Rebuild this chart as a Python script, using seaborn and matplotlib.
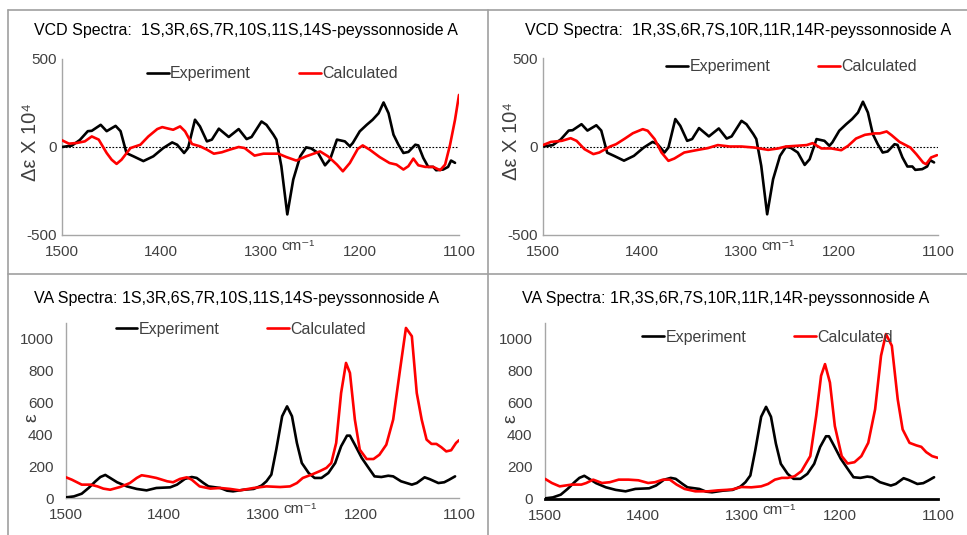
import numpy as np
import pandas as pd
import matplotlib
matplotlib.use("Agg")
import matplotlib.pyplot as plt
from matplotlib.lines import Line2D
import seaborn as sns

# ---------------- data ----------------
vcd_exp_x = [1500, 1490, 1482, 1474, 1470, 1461, 1455, 1446, 1441, 1435, 1428, 1418, 1408, 1398,
             1389, 1384, 1377, 1373, 1366, 1361, 1354, 1349, 1342, 1332, 1322, 1314, 1309, 1299,
             1294, 1287, 1284, 1279, 1273, 1267, 1260, 1254, 1249, 1242, 1235, 1230, 1223, 1215,
             1210, 1207, 1200, 1193, 1187, 1181, 1176, 1171, 1166, 1161, 1156, 1151, 1144, 1141,
             1136, 1131, 1126, 1123, 1116, 1111, 1108, 1104]
vcd_exp_y = [0, 8, 40, 90, 92, 126, 90, 120, 90, -35, -53, -80, -53, -6,
             26, 13, -34, -6, 155, 117, 32, 42, 104, 57, 102, 45, 57, 145,
             126, 70, 42, -109, -383, -185, -53, -2, -8, -34, -104, -72, 42, 32,
             4, 23, 89, 126, 155, 192, 253, 192, 70, 13, -34, -28, 13, 9,
             -62, -113, -113, -132, -128, -113, -77, -90]

vcd_calc1_x = [1500, 1493, 1485, 1477, 1470, 1463, 1455, 1450, 1445, 1440, 1431, 1421, 1413, 1404,
               1399, 1394, 1388, 1381, 1376, 1369, 1361, 1354, 1347, 1339, 1331, 1322, 1316, 1306,
               1297, 1282, 1274, 1264, 1254, 1240, 1232, 1223, 1217, 1210, 1202, 1197, 1190, 1180,
               1170, 1163, 1156, 1151, 1146, 1141, 1134, 1126, 1119, 1114, 1109, 1104, 1100]
vcd_calc1_y = [38, 19, 23, 32, 60, 42, -34, -72, -96, -72, -6, 13, 60, 102,
               113, 106, 98, 117, 89, 17, 4, -15, -38, -30, -15, 0, -6, -49,
               -38, -38, -57, -77, -53, -25, -53, -100, -138, -91, -11, 9, -15, -57,
               -91, -100, -128, -109, -66, -104, -113, -113, -132, -100, 13, 155, 296]

vcd_calc2_x = [1500, 1492, 1481, 1472, 1466, 1458, 1449, 1443, 1432, 1426, 1417, 1409, 1399, 1394,
               1387, 1380, 1373, 1367, 1357, 1343, 1333, 1323, 1311, 1299, 1286, 1272, 1262, 1254,
               1243, 1233, 1227, 1218, 1208, 1198, 1191, 1183, 1174, 1164, 1159, 1152, 1147, 1139,
               1128, 1122, 1115, 1112, 1107, 1101]
vcd_calc2_y = [8, 26, 32, 47, 32, -15, -43, -34, 0, 13, 45, 75, 98, 89,
               42, -34, -81, -68, -34, -19, -9, 8, 0, 0, -6, -19, -11, 0,
               4, 8, 19, -11, -11, -21, 4, 45, 66, 74, 74, 85, 64, 26,
               -6, -43, -91, -100, -62, -49]

va_exp_x = [1500, 1492, 1484, 1477, 1470, 1465, 1460, 1455, 1448, 1438, 1428, 1418, 1408, 1394,
            1387, 1379, 1372, 1367, 1360, 1355, 1343, 1336, 1330, 1319, 1309, 1301, 1296, 1291,
            1286, 1280, 1275, 1270, 1265, 1260, 1253, 1247, 1240, 1233, 1226, 1220, 1214, 1211,
            1206, 1199, 1192, 1186, 1179, 1172, 1167, 1159, 1148, 1143, 1135, 1130, 1121, 1115,
            1110, 1104]
va_exp_y = [4, 10, 27, 63, 105, 132, 145, 126, 99, 73, 57, 48, 63, 67,
            84, 120, 132, 126, 94, 73, 63, 46, 42, 52, 57, 78, 105, 147,
            304, 514, 576, 514, 346, 220, 157, 126, 126, 157, 220, 325, 392, 392,
            335, 252, 189, 136, 132, 140, 136, 105, 84, 94, 130, 119, 94, 99,
            115, 136]

va_calc1_x = [1500, 1494, 1484, 1475, 1468, 1462, 1455, 1445, 1435, 1428, 1423, 1416, 1408, 1397,
              1391, 1384, 1377, 1372, 1364, 1353, 1343, 1333, 1323, 1309, 1296, 1282, 1272, 1265,
              1259, 1250, 1242, 1235, 1230, 1225, 1220, 1215, 1211, 1206, 1201, 1194, 1187, 1181,
              1174, 1167, 1160, 1154, 1148, 1143, 1138, 1133, 1128, 1123, 1118, 1113, 1108, 1103, 1100]
va_calc1_y = [130, 115, 84, 84, 73, 59, 52, 69, 94, 126, 143, 136, 126, 105,
              99, 120, 130, 115, 73, 59, 63, 57, 48, 63, 73, 69, 73, 94,
              126, 147, 168, 189, 220, 346, 660, 849, 786, 493, 304, 245, 245, 272,
              335, 493, 807, 1069, 1017, 660, 493, 367, 340, 340, 319, 293, 300, 346, 363]

va_calc2_x = [1500, 1493, 1485, 1473, 1463, 1458, 1451, 1442, 1434, 1425, 1415, 1405, 1395, 1388,
              1380, 1373, 1366, 1358, 1347, 1334, 1324, 1310, 1300, 1290, 1280, 1273, 1266, 1259,
              1253, 1246, 1239, 1230, 1224, 1219, 1215, 1210, 1205, 1198, 1192, 1185, 1178, 1171,
              1164, 1158, 1153, 1147, 1141, 1136, 1129, 1122, 1117, 1112, 1106, 1100]
va_calc2_y = [126, 100, 79, 90, 90, 100, 121, 100, 105, 121, 121, 117, 100, 105,
              121, 121, 90, 63, 48, 48, 54, 59, 75, 73, 79, 94, 121, 132,
              132, 142, 174, 268, 519, 770, 843, 728, 456, 268, 222, 230, 268, 351,
              561, 895, 1031, 958, 623, 435, 351, 335, 326, 293, 268, 257]

titles = ["VCD Spectra:  1S,3R,6S,7R,10S,11S,14S-peyssonnoside A",
          "VCD Spectra:  1R,3S,6R,7S,10R,11R,14R-peyssonnoside A",
          "VA Spectra: 1S,3R,6S,7R,10S,11S,14S-peyssonnoside A",
          "VA Spectra: 1R,3S,6R,7S,10R,11R,14R-peyssonnoside A"]
series_names = ["Experiment", "Calculated"]
x_ticks = [1500, 1400, 1300, 1200, 1100]
vcd_ticks = [-500, 0, 500]
va_ticks = [0, 200, 400, 600, 800, 1000]

# ---------------- style ----------------
sns.set_theme(style="white")
plt.rcParams['font.family'] = ['Liberation Sans', 'DejaVu Sans']
plt.rcParams['axes.unicode_minus'] = False

W, H = 967, 535
fig = plt.figure(figsize=(W / 100, H / 100), dpi=100)

def fx(px):
    return px / W

def fy(py):
    return 1 - py / H

GRAY = "#a6a6a6"
TXT = "#404040"

boxes = [
    (62, 459, 59, 235),
    (543, 938, 58, 235),
    (66, 459, 323, 498),
    (545, 938, 323, 499),
]
title_pos = [(246, 31), (738, 31), (237, 298), (726, 298)]
leg_pos = [(0.53, 0.915), (0.63, 0.95), (0.445, 0.965), (0.567, 0.92)]

datasets = [
    (vcd_exp_x, vcd_exp_y, vcd_calc1_x, vcd_calc1_y),
    (vcd_exp_x, vcd_exp_y, vcd_calc2_x, vcd_calc2_y),
    (va_exp_x, va_exp_y, va_calc1_x, va_calc1_y),
    (va_exp_x, va_exp_y, va_calc2_x, va_calc2_y),
]

for i, (l, r, t, b) in enumerate(boxes):
    ax = fig.add_axes([fx(l), fy(b), fx(r) - fx(l), fy(t) - fy(b)])
    ex, ey, cx, cy = datasets[i]
    df = pd.concat([
        pd.DataFrame({"wn": ex, "val": ey, "series": series_names[0]}),
        pd.DataFrame({"wn": cx, "val": cy, "series": series_names[1]}),
    ])
    vcd = i < 2
    if vcd:
        ax.axhline(0, color="black", lw=0.8, ls=(0, (1.5, 1.5)), zorder=1)
    sns.lineplot(data=df, x="wn", y="val", hue="series", palette={"Experiment": "black", "Calculated": "#ff0000"},
                 sort=False, estimator=None, lw=1.9, ax=ax, legend=False, zorder=3)
    ax.set_xlim(1500, 1100)
    ax.set_xticks(x_ticks)
    ax.set_xticklabels([str(v) for v in x_ticks])
    if vcd:
        ax.set_ylim(-500, 500)
        ax.set_yticks(vcd_ticks)
        ax.set_yticks([-250, 250], minor=True)
        ax.tick_params(axis="y", which="both", direction="in", length=5, color=GRAY, width=1)
        ax.set_ylabel("Δε X 10⁴", fontsize=14.5, color=TXT, labelpad=0)
        ax.yaxis.set_label_coords(-0.055, 0.53)
    else:
        ax.set_ylim(0, 1100)
        ax.set_yticks(va_ticks)
        ax.set_yticks([100, 300, 500, 700, 900, 1100], minor=True)
        ax.tick_params(axis="y", which="both", direction="out", length=5, color=GRAY, width=1)
        ax.set_ylabel("ε", fontsize=14, color=TXT, labelpad=0)
        ax.yaxis.set_label_coords(-0.066, 0.457)
    ax.tick_params(axis="y", which="major", labelsize=11, labelcolor=TXT, pad=4)
    ax.tick_params(axis="x", length=0, labelsize=11, labelcolor=TXT, pad=7)
    ax.set_xlabel("")
    ax.text(0.595, -0.025, "cm⁻¹", transform=ax.transAxes, ha="center", va="top",
            fontsize=11, color=TXT)
    for s in ["top", "right"]:
        ax.spines[s].set_visible(False)
    ax.spines["left"].set_color(GRAY)
    ax.spines["bottom"].set_color(GRAY)
    ax.spines["left"].set_linewidth(1)
    ax.spines["bottom"].set_linewidth(1)
    if i == 3:
        ax.spines["bottom"].set_color("black")
        ax.spines["bottom"].set_linewidth(2)
    handles = [Line2D([], [], color="black", lw=1.9), Line2D([], [], color="#ff0000", lw=1.9)]
    ax.legend(handles, series_names, loc="center", bbox_to_anchor=leg_pos[i], ncol=2, frameon=False,
              fontsize=11.5, handlelength=1.35, handletextpad=0.1, columnspacing=3.0,
              labelcolor=TXT, borderpad=0, borderaxespad=0)
    tx, ty = title_pos[i]
    fig.text(fx(tx), fy(ty), titles[i], ha="center", va="center", fontsize=11.5, color="black")

# panel borders
border = dict(color="#a0a0a0", lw=1.2)
fig.add_artist(Line2D([fx(8), 1], [fy(10), fy(10)], transform=fig.transFigure, **border))
fig.add_artist(Line2D([fx(8), fx(8)], [fy(10), 0], transform=fig.transFigure, **border))
fig.add_artist(Line2D([fx(488), fx(488)], [fy(10), 0], transform=fig.transFigure, **border))
fig.add_artist(Line2D([fx(8), 1], [fy(274), fy(274)], transform=fig.transFigure, **border))

fig.savefig("out.png", dpi=100)
